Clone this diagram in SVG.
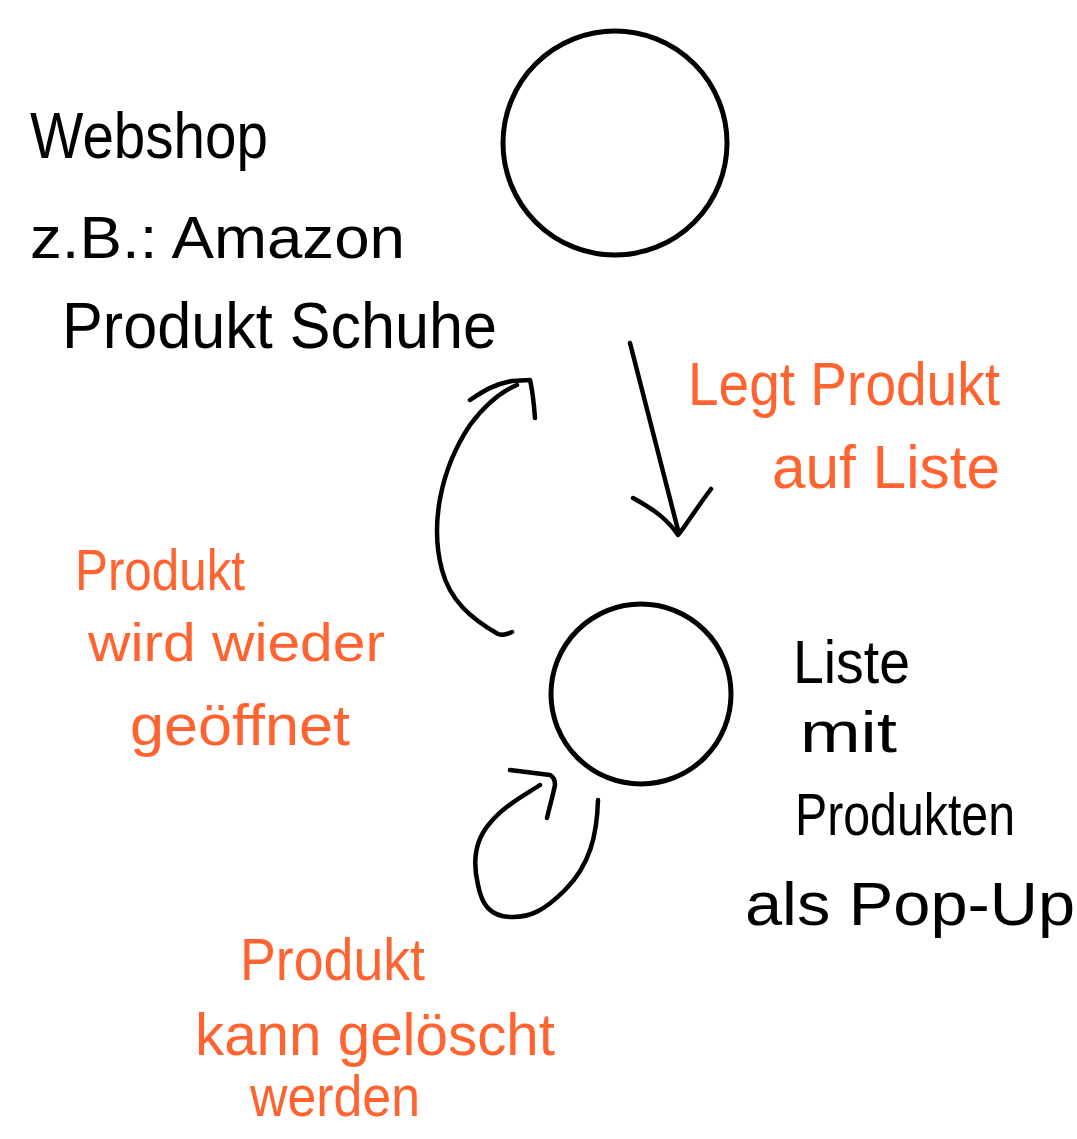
<svg xmlns="http://www.w3.org/2000/svg" width="1077" height="1139" viewBox="0 0 1077 1139">
<style>
.bg{fill:#ffffff}
.node{fill:none;stroke:#000;stroke-width:5}
.con{fill:none;stroke:#000;stroke-width:4.5;stroke-linecap:round;stroke-linejoin:round}
.t{font-family:"Liberation Sans",Arial,sans-serif;fill:#000}
.o{font-family:"Liberation Sans",Arial,sans-serif;fill:#ff6430}
</style>
<rect class="bg" x="0" y="0" width="1077" height="1139"/>
<g id="webshop">
<circle class="node" cx="615" cy="143" r="112"/>
<text class="t" x="30" y="158" font-size="64" textLength="238" lengthAdjust="spacingAndGlyphs">Webshop</text>
<text class="t" x="30" y="258" font-size="60" textLength="375" lengthAdjust="spacingAndGlyphs">z.B.: Amazon</text>
<text class="t" x="62" y="348" font-size="64" textLength="435" lengthAdjust="spacingAndGlyphs">Produkt Schuhe</text>
</g>
<g id="liste">
<circle class="node" cx="641" cy="694" r="90"/>
<text class="t" x="793" y="683" font-size="62" textLength="117" lengthAdjust="spacingAndGlyphs">Liste</text>
<text class="t" x="800" y="752" font-size="58" textLength="97" lengthAdjust="spacingAndGlyphs">mit</text>
<text class="t" x="795" y="835" font-size="60" textLength="220" lengthAdjust="spacingAndGlyphs">Produkten</text>
<text class="t" x="745" y="925" font-size="62" textLength="330" lengthAdjust="spacingAndGlyphs">als Pop-Up</text>
</g>
<g id="connectors">
<g id="add">
<path class="con" d="M630 343 L678 530"/>
<path class="con" d="M633 498 C655 510 668 520 678 535 C683 530 695 510 711 489"/>
<text class="o" x="688" y="405" font-size="62" textLength="312" lengthAdjust="spacingAndGlyphs">Legt Produkt</text>
<text class="o" x="772" y="488" font-size="62" textLength="228" lengthAdjust="spacingAndGlyphs">auf Liste</text>
</g>
<g id="reopen">
<path class="con" d="M512 632 C507 634 503 636 498 634 C470 618 450 600 442 570 C430 525 440 470 470 425 C485 405 500 392 517 385"/>
<path class="con" d="M470 400 C485 390 495 384 512 381 L530 380 C533 392 534 405 535 418"/>
<text class="o" x="75" y="590" font-size="58" textLength="170" lengthAdjust="spacingAndGlyphs">Produkt</text>
<text class="o" x="88" y="661" font-size="54" textLength="297" lengthAdjust="spacingAndGlyphs">wird wieder</text>
<text class="o" x="130" y="745" font-size="58" textLength="220" lengthAdjust="spacingAndGlyphs">geöffnet</text>
</g>
<g id="delete">
<path class="con" d="M598 800 C597 835 590 865 565 890 C545 910 530 918 510 917 C490 916 482 905 478 885 C472 860 475 840 490 823 C505 805 525 795 540 785"/>
<path class="con" d="M510 770 L550 775 C554 777 555 780 555 785 C553 795 550 805 547 818"/>
<text class="o" x="240" y="980" font-size="60" textLength="185" lengthAdjust="spacingAndGlyphs">Produkt</text>
<text class="o" x="195" y="1055" font-size="60" textLength="360" lengthAdjust="spacingAndGlyphs">kann gelöscht</text>
<text class="o" x="250" y="1116" font-size="58" textLength="170" lengthAdjust="spacingAndGlyphs">werden</text>
</g>
</g>
</svg>
